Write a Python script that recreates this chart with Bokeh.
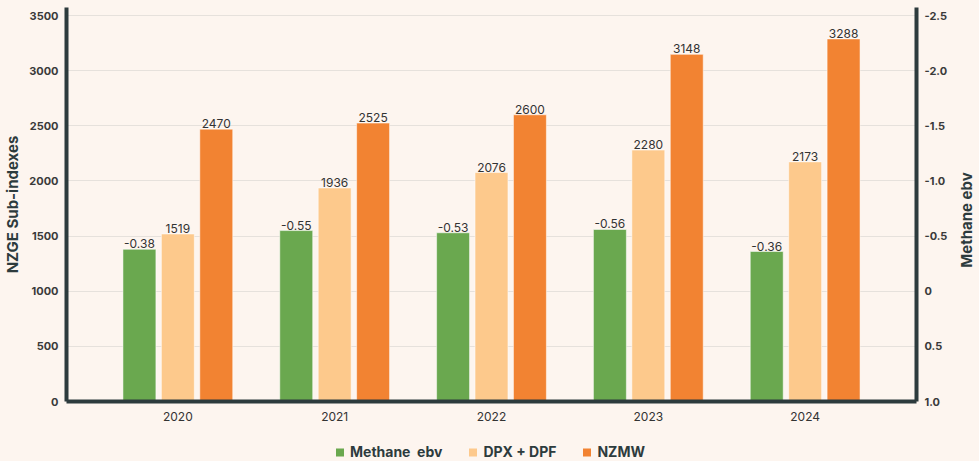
import math
from bokeh.plotting import figure
from bokeh.layouts import column, row
from bokeh.models import Range1d, LinearAxis, FixedTicker, Legend, LegendItem, ColumnDataSource, Label
from bokeh.core.properties import value
from bokeh.embed import file_html
from bokeh.resources import INLINE

years = ["2020", "2021", "2022", "2023", "2024"]
methane = [-0.38, -0.55, -0.53, -0.56, -0.36]
dpx_dpf = [1519, 1936, 2076, 2280, 2173]
nzmw = [2470, 2525, 2600, 3148, 3288]
left_ticks = [0, 500, 1000, 1500, 2000, 2500, 3000, 3500]
right_ticks = [1.0, 0.5, 0, -0.5, -1.0, -1.5, -2.0, -2.5]
series_names = ["Methane  ebv", "DPX + DPF", "NZMW"]

BG = "#fdf5ef"
DARK = "#2d3b3d"
GREEN = "#6aa84f"
LIGHT = "#fdc98c"
ORANGE = "#f28332"
FONT = "Inter"
W = 979
WM = 950
H = 425

xs = list(range(len(years)))
off = 0.245
w = 0.21

p = figure(width=WM, height=H, output_backend="svg", toolbar_location=None,
           x_range=Range1d(-0.71, 4.71), y_range=Range1d(0, 3573),
           min_border_left=65, min_border_right=33, min_border_top=7, min_border_bottom=24,
           background_fill_color=BG, border_fill_color=BG, outline_line_color=None)
p.extra_y_ranges = {"m": Range1d(1.0, -2.573)}

src = ColumnDataSource(dict(
    xg=[x - off for x in xs], xl=xs, xo=[x + off for x in xs],
    m=methane, d=dpx_dpf, n=nzmw,
    mt=[f"{v:.2f}" for v in methane], dt=[str(v) for v in dpx_dpf], nt=[str(v) for v in nzmw],
))

bar_style = dict(line_color="white", line_alpha=0.5, line_width=1)
p.vbar(x="xg", width=w, bottom=1.0, top="m", source=src, y_range_name="m", fill_color=GREEN, **bar_style)
p.vbar(x="xl", width=w, bottom=0, top="d", source=src, fill_color=LIGHT, **bar_style)
p.vbar(x="xo", width=w, bottom=0, top="n", source=src, fill_color=ORANGE, **bar_style)

lab = dict(text_align="center", text_baseline="bottom", y_offset=-1,
           text_font=value(FONT), text_font_size="12px", text_color="#333333")
p.text(x="xg", y="m", text="mt", source=src, y_range_name="m", **lab)
p.text(x="xl", y="d", text="dt", source=src, **lab)
p.text(x="xo", y="n", text="nt", source=src, **lab)

ra = LinearAxis(y_range_name="m")
p.add_layout(ra, "right")

for ax in [p.yaxis[0], ra, p.xaxis[0]]:
    ax.axis_line_width = 4
    ax.axis_line_color = DARK
    ax.major_tick_line_color = None
    ax.minor_tick_line_color = None
    ax.major_tick_out = 0
    ax.minor_tick_out = 0
    ax.major_tick_in = 0
    ax.minor_tick_in = 0
    ax.major_label_text_font = FONT
    ax.axis_label_text_font = FONT
    ax.axis_label_text_font_size = "15px"
    ax.axis_label_text_font_style = "bold"
    ax.axis_label_text_color = DARK

for ax in [p.yaxis[0], ra]:
    ax.major_label_text_font_size = "11px"
    ax.major_label_text_font_style = "bold"
    ax.major_label_text_color = "#3a3a3a"

p.yaxis[0].ticker = FixedTicker(ticks=left_ticks)
p.yaxis[0].axis_label = "NZGE Sub-indexes"
p.yaxis[0].major_label_standoff = 8
p.yaxis[0].axis_label_standoff = 4
ra.ticker = FixedTicker(ticks=right_ticks)
ra.major_label_overrides = {t: ("0" if t == 0 else f"{t:.1f}") for t in right_ticks}
ra.major_label_standoff = 8

xa = p.xaxis[0]
xa.ticker = FixedTicker(ticks=xs)
xa.major_label_overrides = {i: y for i, y in enumerate(years)}
xa.major_label_text_font_size = "12px"
xa.major_label_text_color = "#333333"
xa.major_label_standoff = 10

p.xgrid.visible = False
p.ygrid.ticker = FixedTicker(ticks=left_ticks)
p.ygrid.grid_line_color = "#e6e1dc"

# right-axis title strip
rt = figure(width=W - WM, height=H, output_backend="svg", toolbar_location=None,
            x_range=Range1d(0, 1), y_range=Range1d(0, 1), x_axis_type=None, y_axis_type=None,
            min_border_left=0, min_border_right=0, min_border_top=0, min_border_bottom=0,
            background_fill_color=BG, border_fill_color=BG, outline_line_color=None)
rt.grid.visible = False
rt.add_layout(Label(x=15.5, y=181.5, x_units="screen", y_units="screen",
                    text="Methane ebv", angle=math.pi / 2, text_align="center",
                    text_baseline="middle", text_font=FONT, text_font_size="15px",
                    text_font_style="bold", text_color=DARK))

# legend strip
lg = figure(width=W, height=36, output_backend="svg", toolbar_location=None,
            x_range=Range1d(0, 1), y_range=Range1d(0, 1), x_axis_type=None, y_axis_type=None,
            min_border_left=0, min_border_right=0, min_border_top=0, min_border_bottom=0,
            background_fill_color=BG, border_fill_color=BG, outline_line_color=None)
lg.grid.visible = False
items = []
for name, col in zip(series_names, [GREEN, LIGHT, ORANGE]):
    r = lg.vbar(x=[-5], top=[-5], bottom=[-6], width=0.1, fill_color=col, line_color=None)
    items.append(LegendItem(label=name, renderers=[r]))

legend = Legend(items=items, orientation="horizontal", location="bottom_center",
                background_fill_alpha=0, border_line_color=None,
                label_text_font=FONT, label_text_font_style="bold", label_text_font_size="14px",
                label_text_color=DARK, glyph_width=10, glyph_height=10, label_standoff=6,
                spacing=25, padding=0, margin=1, label_height=16)
lg.add_layout(legend)

layout = column(row(p, rt, spacing=0, background=BG), lg, spacing=0, background=BG)
open("out.html", "w").write(file_html(layout, INLINE))
